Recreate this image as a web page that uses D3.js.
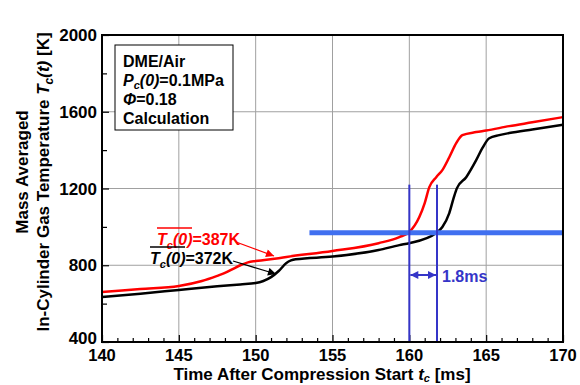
<!DOCTYPE html>
<html>
<head>
<meta charset="utf-8">
<script src="https://cdn.jsdelivr.net/npm/d3@7"></script>
<style>
body { margin: 0; background: #fff; }
text { font-family: "Liberation Sans", Arial, sans-serif; font-weight: bold; }
</style>
</head>
<body>
<script>
// ---------- data ----------
var redT   = [140, 142.5, 145, 146.5, 147.5, 148, 148.5, 149, 149.5, 150, 151.5, 152, 155, 158, 159.35, 160, 160.65, 161, 161.3, 161.75, 162.15, 162.6, 163.05, 163.45, 164.35, 165, 166.5, 168, 170];
var redK   = [660, 676, 692, 718, 745, 760, 780, 800, 815, 822, 837, 843, 874, 915, 947, 973, 1051, 1124, 1207, 1259, 1296, 1363, 1436, 1478, 1494, 1502, 1525, 1545, 1572];
var blackT = [140, 142.5, 145, 147.5, 149, 150, 150.5, 151, 151.5, 152, 152.3, 152.6, 155, 158, 159.35, 160, 161.75, 162.15, 162.6, 162.9, 163.1, 163.7, 164.35, 164.75, 165.2, 165.85, 166.5, 168, 170];
var blackK = [634, 652, 671, 690, 700, 707, 718, 738, 770, 812, 825, 831, 845, 879, 905, 915, 968, 999, 1072, 1155, 1202, 1259, 1348, 1410, 1462, 1478, 1489, 1508, 1532];
var xTicks = [140, 145, 150, 155, 160, 165, 170];
var yTicks = [400, 800, 1200, 1600, 2000];
var refTemp = 970, refStart = 153.5;
var ignRed = 160, ignBlack = 161.8;

var margin = {left: 102, right: 17, top: 35, bottom: 43};
var W = 580, H = 385;

var svg = d3.select("body").append("svg").attr("width", W).attr("height", H);

var x = d3.scaleLinear().domain([140, 170]).range([margin.left, W - margin.right]);
var y = d3.scaleLinear().domain([400, 2000]).range([H - margin.bottom, margin.top]);

// grid
svg.append("g").selectAll("line").data(xTicks.slice(1, -1)).enter().append("line")
  .attr("x1", function(d){ return x(d); }).attr("x2", function(d){ return x(d); })
  .attr("y1", y(400)).attr("y2", y(2000))
  .attr("stroke", "#a0a0a0").attr("stroke-width", 1);
svg.append("g").selectAll("line").data(yTicks.slice(1, -1)).enter().append("line")
  .attr("y1", function(d){ return y(d); }).attr("y2", function(d){ return y(d); })
  .attr("x1", x(140)).attr("x2", x(170))
  .attr("stroke", "#a0a0a0").attr("stroke-width", 1);

// inward ticks
var xAxis = svg.append("g").attr("transform", "translate(0," + y(400) + ")")
  .call(d3.axisTop(x).tickValues(d3.range(140, 171, 1)).tickFormat("")
    .tickSize(4).tickSizeOuter(0));
xAxis.selectAll(".tick line").attr("stroke-width", 1.2)
  .attr("y2", function(d){ return d % 5 == 0 ? -7 : -4; });
xAxis.select(".domain").remove();

var yAxis = svg.append("g").attr("transform", "translate(" + x(140) + ",0)")
  .call(d3.axisRight(y).tickValues(d3.range(400, 2001, 200)).tickFormat("")
    .tickSize(5).tickSizeOuter(0));
yAxis.selectAll(".tick line").attr("stroke-width", 1.2)
  .attr("x2", function(d){ return d % 400 == 0 ? 7 : 5; });
yAxis.select(".domain").remove();

// tick labels
svg.append("g").selectAll("text").data(xTicks).enter().append("text")
  .attr("x", function(d){ return x(d); }).attr("y", y(400) + 19)
  .attr("text-anchor", "middle").attr("font-size", 16.5).text(function(d){ return d; });
svg.append("g").selectAll("text").data(yTicks).enter().append("text")
  .attr("x", x(140) - 5).attr("y", function(d){ return y(d) + (d == 400 ? 2 : 6); })
  .attr("text-anchor", "end").attr("font-size", 17).text(function(d){ return d; });

// curves
var line = d3.line().x(function(d){ return x(d[0]); }).y(function(d){ return y(d[1]); })
  .curve(d3.curveMonotoneX);
svg.append("path").datum(d3.zip(blackT, blackK)).attr("d", line)
  .attr("fill", "none").attr("stroke", "#000").attr("stroke-width", 2.5);
svg.append("path").datum(d3.zip(redT, redK)).attr("d", line)
  .attr("fill", "none").attr("stroke", "#f00").attr("stroke-width", 2.5);

// reference temperature and ignition markers
svg.append("line").attr("x1", x(refStart)).attr("x2", x(170))
  .attr("y1", y(refTemp)).attr("y2", y(refTemp))
  .attr("stroke", "#4070f0").attr("stroke-width", 5);
svg.append("g").selectAll("line").data([ignRed, ignBlack]).enter().append("line")
  .attr("x1", function(d){ return x(d); }).attr("x2", function(d){ return x(d); })
  .attr("y1", y(1220)).attr("y2", y(400))
  .attr("stroke", "#3535c8").attr("stroke-width", 2);

var defs = svg.append("defs");
function marker(id, color, orient) {
  defs.append("marker").attr("id", id).attr("viewBox", "0 0 10 10")
    .attr("refX", 10).attr("refY", 5).attr("markerWidth", 10).attr("markerHeight", 8)
    .attr("markerUnits", "userSpaceOnUse").attr("orient", orient || "auto")
    .append("path").attr("d", "M0,0 L10,5 L0,10 z").attr("fill", color);
}
marker("arB", "#3535c8", "auto-start-reverse");
marker("arR", "#f00");
marker("arK", "#000");

var ay = y(400) - 67;
svg.append("line").attr("x1", x(ignRed) + 1).attr("x2", x(ignBlack) - 1)
  .attr("y1", ay).attr("y2", ay)
  .attr("stroke", "#3535c8").attr("stroke-width", 2)
  .attr("marker-start", "url(#arB)").attr("marker-end", "url(#arB)");
svg.append("text").attr("x", x(ignBlack) + 5).attr("y", ay + 7)
  .attr("font-size", 16).attr("fill", "#3535c8").text("1.8ms");

// annotations
function tcLabel(xp, yp, color, val) {
  var t = svg.append("text").attr("x", xp).attr("y", yp).attr("font-size", 16).attr("fill", color);
  t.append("tspan").attr("font-style", "italic").text("T");
  t.append("tspan").attr("font-style", "italic").attr("font-size", 11).attr("dy", 4).text("c");
  t.append("tspan").attr("font-style", "italic").attr("dy", -4).text("(0)");
  t.append("tspan").text("=" + val + "K");
  svg.append("line").attr("x1", xp).attr("x2", xp + 35)
    .attr("y1", yp - 17).attr("y2", yp - 17).attr("stroke", color).attr("stroke-width", 1.3);
}
tcLabel(157, 245, "#f00", 387);
tcLabel(150, 264, "#000", 372);
svg.append("line").attr("x1", 236).attr("y1", 242).attr("x2", 274).attr("y2", 256)
  .attr("stroke", "#f00").attr("stroke-width", 1.3).attr("marker-end", "url(#arR)");
svg.append("line").attr("x1", 233).attr("y1", 261).attr("x2", 276).attr("y2", 274)
  .attr("stroke", "#000").attr("stroke-width", 1.3).attr("marker-end", "url(#arK)");

// info box
svg.append("rect").attr("x", 115).attr("y", 45).attr("width", 118).attr("height", 85)
  .attr("fill", "#fff").attr("stroke", "#000").attr("stroke-width", 1);
var bx = 123;
svg.append("text").attr("x", bx).attr("y", 67).attr("font-size", 16).text("DME/Air");
var p = svg.append("text").attr("x", bx).attr("y", 86).attr("font-size", 16);
p.append("tspan").attr("font-style", "italic").text("P");
p.append("tspan").attr("font-style", "italic").attr("font-size", 11).attr("dy", 3).text("c");
p.append("tspan").attr("font-style", "italic").attr("dy", -3).text("(0)");
p.append("tspan").text("=0.1MPa");
var ph = svg.append("text").attr("x", bx).attr("y", 105).attr("font-size", 16);
ph.append("tspan").attr("font-style", "italic").text("\u03A6");
ph.append("tspan").text("=0.18");
svg.append("text").attr("x", bx).attr("y", 124).attr("font-size", 16).text("Calculation");

// frame
svg.append("rect").attr("x", x(140)).attr("y", y(2000))
  .attr("width", x(170) - x(140)).attr("height", y(400) - y(2000))
  .attr("fill", "none").attr("stroke", "#000").attr("stroke-width", 2);

// axis titles
var xt = svg.append("text").attr("x", 322).attr("y", 380).attr("text-anchor", "middle").attr("font-size", 17);
xt.append("tspan").text("Time After Compression Start ");
xt.append("tspan").attr("font-style", "italic").text("t");
xt.append("tspan").attr("font-style", "italic").attr("font-size", 11).attr("dy", 2).text("c");
xt.append("tspan").attr("dy", -2).text(" [ms]");

svg.append("text").attr("transform", "translate(28,172) rotate(-90)")
  .attr("text-anchor", "middle").attr("font-size", 17).text("Mass Averaged");
var yt = svg.append("text").attr("transform", "translate(49,182) rotate(-90)")
  .attr("text-anchor", "middle").attr("font-size", 17);
yt.append("tspan").text("In-Cylinder Gas Temperature ");
yt.append("tspan").attr("font-style", "italic").text("T");
yt.append("tspan").attr("font-style", "italic").attr("font-size", 12).attr("dy", 4).text("c");
yt.append("tspan").attr("font-style", "italic").attr("dy", -4).text("(t)");
yt.append("tspan").text(" [K]");
</script>
</body>
</html>
